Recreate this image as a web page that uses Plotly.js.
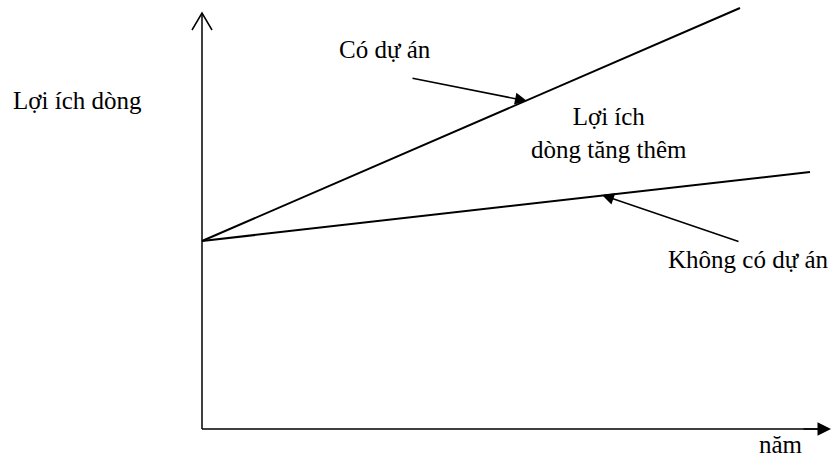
<!DOCTYPE html>
<html><head><meta charset="utf-8">
<script src="https://cdn.plot.ly/plotly-3.0.1.min.js"></script>
<style>
html,body{margin:0;padding:0;background:#fff}
#chart text{font-family:"Liberation Serif","Times New Roman","DejaVu Serif",serif !important;}
</style>
</head><body>
<div id="chart" style="width:832px;height:458px"></div>
<script>
// Schematic data (arbitrary units: x = năm, y = lợi ích dòng)
const years = [0, 538];
const withProject = [188, 421];
const yearsNo = [0, 608];
const withoutProject = [188, 257];

const labels = {
  yAxis: 'Lợi ích dòng',
  xAxis: 'năm',
  with: 'Có dự án',
  without: 'Không có dự án',
  incremental: 'Lợi ích<br>dòng tăng thêm'
};

const font = {family: 'Liberation Serif', size: 25, color: '#000'};

const traces = [
  {x: years, y: withProject, mode: 'lines', line: {color: '#000', width: 2}, hoverinfo: 'skip'},
  {x: yearsNo, y: withoutProject, mode: 'lines', line: {color: '#000', width: 2}, hoverinfo: 'skip'}
];

const layout = {
  width: 832, height: 458,
  margin: {l: 0, r: 0, t: 0, b: 0},
  paper_bgcolor: '#fff', plot_bgcolor: '#fff',
  showlegend: false,
  font: font,
  xaxis: {range: [-202, 630], visible: false, fixedrange: true},
  yaxis: {range: [-29, 429], visible: false, fixedrange: true},
  shapes: [
    {type: 'line', xref: 'x', yref: 'y', x0: 0, y0: 0, x1: 0, y1: 416, line: {color: '#000', width: 1.5}},
    {type: 'line', xref: 'x', yref: 'y', x0: 0, y0: 0, x1: 620, y1: 0, line: {color: '#000', width: 1.5}},
    {type: 'path', xref: 'x', yref: 'y', path: 'M -10,399 L 0,416 L 10,399', line: {color: '#000', width: 1.5}}
  ],
  annotations: [
    {x: 629, y: 0, ax: 600, ay: 0, axref: 'x', ayref: 'y', xref: 'x', yref: 'y', text: '', showarrow: true,
     arrowhead: 2, arrowsize: 1.8, arrowwidth: 1.5, arrowcolor: '#000', standoff: 0},
    {x: 325, y: 328, ax: 209, ay: 351, axref: 'x', ayref: 'y', xref: 'x', yref: 'y', text: '', showarrow: true,
     arrowhead: 2, arrowsize: 1.6, arrowwidth: 1.5, arrowcolor: '#000', standoff: 0},
    {x: 400, y: 234, ax: 538, ay: 187, axref: 'x', ayref: 'y', xref: 'x', yref: 'y', text: '', showarrow: true,
     arrowhead: 2, arrowsize: 1.6, arrowwidth: 1.5, arrowcolor: '#000', standoff: 0},
    {x: -191, y: 329, xref: 'x', yref: 'y', text: labels.yAxis, showarrow: false, font: font, xanchor: 'left', yanchor: 'middle'},
    {x: 183, y: 380, xref: 'x', yref: 'y', text: labels.with, showarrow: false, font: font, xanchor: 'center', yanchor: 'middle'},
    {x: 407, y: 296, xref: 'x', yref: 'y', text: labels.incremental, showarrow: false, font: font, xanchor: 'center', yanchor: 'middle'},
    {x: 629, y: 170, xref: 'x', yref: 'y', text: labels.without, showarrow: false, font: font, xanchor: 'right', yanchor: 'middle'},
    {x: 579, y: -15, xref: 'x', yref: 'y', text: labels.xAxis, showarrow: false, font: font, xanchor: 'center', yanchor: 'middle'}
  ]
};

Plotly.newPlot('chart', traces, layout, {staticPlot: true, displayModeBar: false});
</script>
</body></html>
